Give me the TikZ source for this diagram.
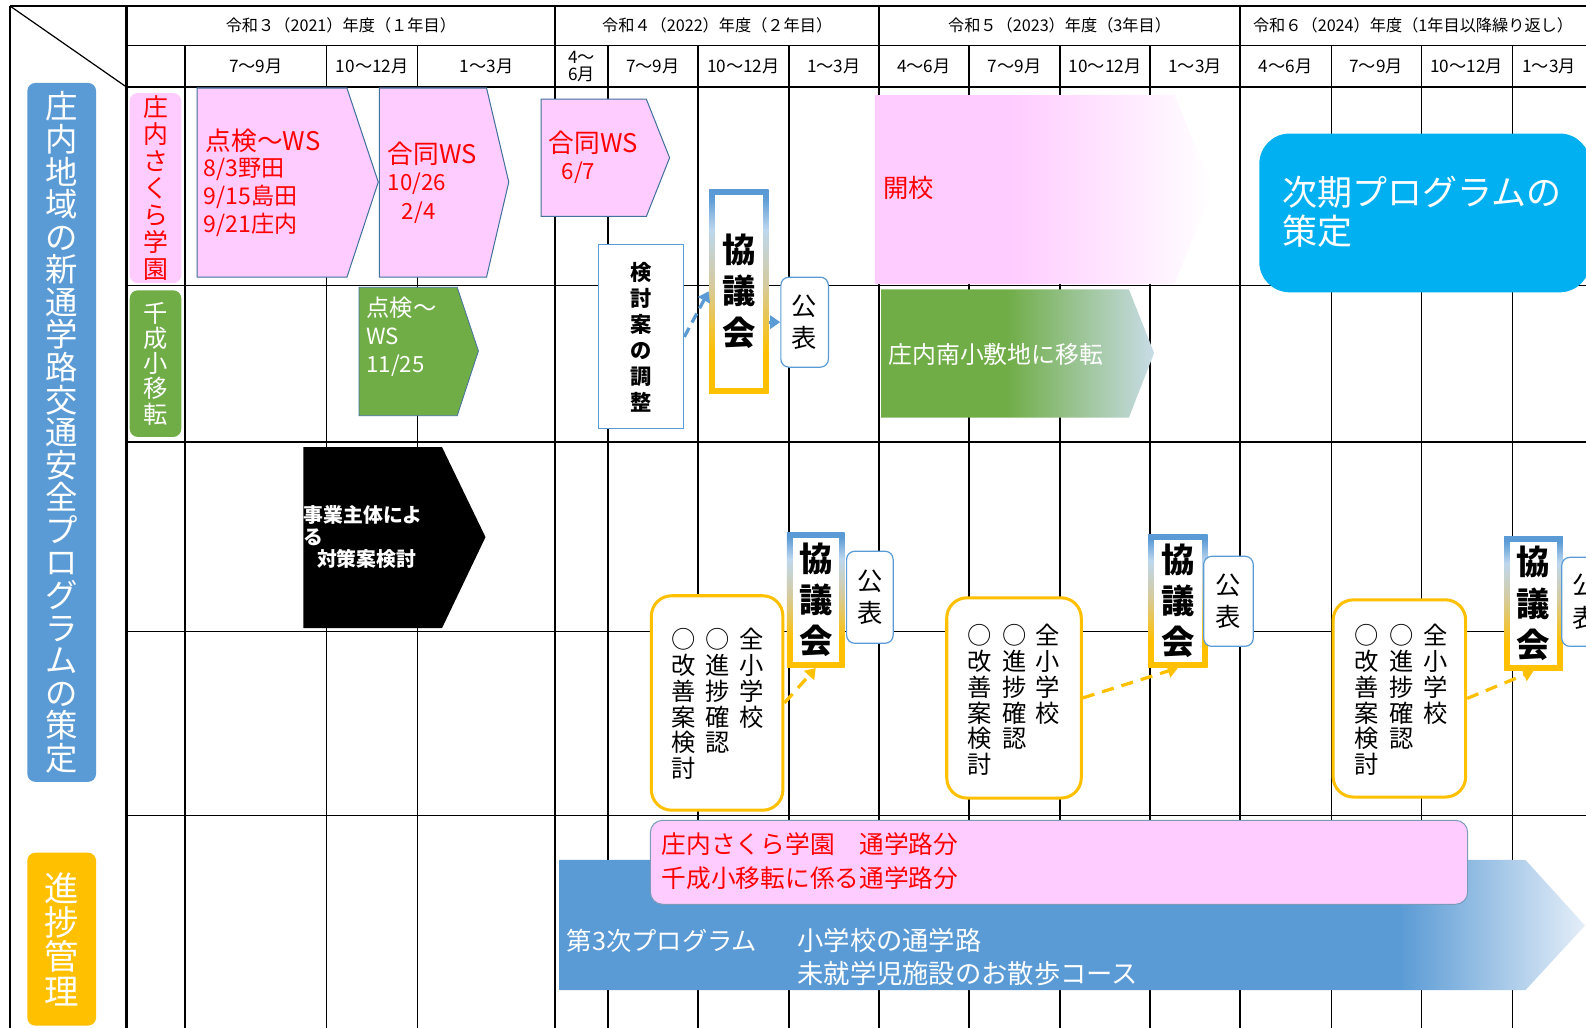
\documentclass[tikz,border=0pt]{standalone}
\usepackage{fontspec}
\setmainfont{Noto Sans CJK JP}
\usetikzlibrary{arrows.meta}
\definecolor{pinkA}{HTML}{FFCCFF}
\definecolor{blueL}{HTML}{5B9BD5}
\definecolor{yelL}{HTML}{FFC000}
\definecolor{greenL}{HTML}{70AD47}
\definecolor{cyanB}{HTML}{00B0F0}
\definecolor{edgeB}{HTML}{41719C}
\definecolor{redT}{HTML}{FF0000}
\definecolor{fadeG}{HTML}{C8DCE6}
\definecolor{fadeB}{HTML}{E4EEF8}
\definecolor{lightB}{HTML}{BDD7EE}
\definecolor{grayY}{HTML}{D4CBA0}
\pgfdeclarehorizontalshading{pinkfade}{100bp}{color(0bp)=(pinkA); color(25bp)=(pinkA); color(45bp)=(pinkA); color(75bp)=(white); color(100bp)=(white)}
\pgfdeclarehorizontalshading{greenfade}{100bp}{color(0bp)=(greenL); color(25bp)=(greenL); color(48bp)=(greenL); color(75bp)=(fadeG); color(100bp)=(fadeG)}
\pgfdeclarehorizontalshading{bluefade}{100bp}{color(0bp)=(blueL); color(25bp)=(blueL); color(66bp)=(blueL); color(75bp)=(fadeB); color(100bp)=(fadeB)}
\pgfdeclareverticalshading{kyogi}{100bp}{color(0bp)=(yelL); color(25bp)=(yelL); color(35bp)=(yelL); color(52bp)=(grayY); color(65bp)=(lightB); color(73bp)=(blueL); color(100bp)=(blueL)}
\makeatletter
\newcommand\vtxt[2]{\vbox{\baselineskip=#1\relax\lineskiplimit=-\maxdimen\lineskip=0pt\@tfor\vch:=#2\do{\hbox to 1em{\hss\vch\hss}}}}
\makeatother
\newcommand\setfs[1]{\fontsize{#1}{#1}\selectfont}
\newcommand\kyobox[5]{%
  \shade[shading=kyogi] (#2,#3) rectangle (#4,#5);
  \fill[white] (#2+5.5,#3+5.5) rectangle (#4-5.5,#5-5.5);
  \node[kyotext, minimum width={(#4-#2)*0.5pt}, minimum height={(#5-#3)*0.5pt}] (#1) at ({(#2+#4)/2},{(#3+#5)/2}) {\vtxt{20.5pt}{協議会}};}
\begin{document}
\begin{tikzpicture}[x=0.5pt,y=-0.5pt,
  gthick/.style={line width=1.1pt},
  gthin/.style={line width=0.6pt},
  hdr/.style={inner sep=0pt,font=\setfs{8}},
  mon/.style={inner sep=0pt,font=\setfs{8.5}},
  pent/.style={fill=pinkA,draw=edgeB,line width=0.5pt},
  rtxt/.style={anchor=west,inner sep=0pt,text=redT},
  wtxt/.style={anchor=west,inner sep=0pt,text=white},
  lab/.style={inner sep=0pt,rounded corners=4pt},
  kyotext/.style={inner sep=0pt,font=\bfseries\setfs{16.5}},
  pub/.style={draw=blueL,line width=0.6pt,fill=white,rounded corners=4pt,inner sep=0pt,font=\setfs{12.5}},
  ybox/.style={draw=yelL,line width=1.5pt,fill=white,rounded corners=10pt,inner sep=0pt},
  ycol/.style={anchor=north,inner sep=0pt,font=\setfs{12}},
  arr/.style={line width=1.6pt,-{Triangle[length=5pt,width=6.5pt]}},
]
\useasboundingbox (0,0) rectangle (1568,1016);
\fill[white] (0,0) rectangle (1568,1016);
% grid
\foreach \x in {183,323,413,601,690,780,958,1048,1137,1316,1405,1495} \draw[gthin] (\x,45) -- (\x,1016);
\foreach \x in {10,125,549,869,1226} \draw[gthick] (\x,6) -- (\x,1016);
\draw[gthick] (10,6) -- (1568,6);
\foreach \y in {45,86,282,437,624,806} \draw[gthin] (125,\y) -- (1568,\y);
\draw[gthin] (10,6) -- (125,86);
% header
\node[hdr] (y1) at (337,25.5) {令和３（2021）年度（１年目）};
\node[hdr] (y2) at (709,25.5) {令和４（2022）年度（２年目）};
\node[hdr] (y3) at (1047.5,25.5) {令和５（2023）年度（3年目）};
\node[hdr] (y4) at (1397,25.5) {令和６（2024）年度（1年目以降繰り返し）};
\node[mon] (m1) at (253,66) {7～9月};
\node[mon] (m2) at (368,66) {10～12月};
\node[mon] (m3) at (481,66) {1～3月};
\node[mon,align=center,font=\fontsize{8.5}{8.5}\selectfont] (m4) at (575,66) {4～\\6月};
\node[mon] (m5) at (645.5,66) {7～9月};
\node[mon] (m6) at (735,66) {10～12月};
\node[mon] (m7) at (824.5,66) {1～3月};
\node[mon] (m8) at (913.5,66) {4～6月};
\node[mon] (m9) at (1003,66) {7～9月};
\node[mon] (m10) at (1092.5,66) {10～12月};
\node[mon] (m11) at (1181.5,66) {1～3月};
\node[mon] (m12) at (1271,66) {4～6月};
\node[mon] (m13) at (1360.5,66) {7～9月};
\node[mon] (m14) at (1450,66) {10～12月};
\node[mon] (m15) at (1531.5,66) {1～3月};
% left labels
\node[lab,fill=blueL,text=white,minimum width=34pt,minimum height=345.5pt,font=\setfs{16}] (lab1) at (61,427.5) {\vtxt{16.1pt}{庄内地域の新通学路交通安全プログラムの策定}};
\node[lab,fill=yelL,text=white,minimum width=34pt,minimum height=85.5pt,font=\setfs{17}] (lab2) at (61,928.5) {\vtxt{17pt}{進捗管理}};
\node[lab,fill=pinkA,text=redT,minimum width=25.5pt,minimum height=94pt,font=\setfs{12.3}] (lab3) at (153.75,186) {\vtxt{13.3pt}{庄内さくら学園}};
\node[lab,fill=greenL,text=white,minimum width=25.5pt,minimum height=72.5pt,font=\setfs{12}] (lab4) at (153.75,359.5) {\vtxt{12.5pt}{千成小移転}};
% pink pentagons
\draw[pent] (195,87) -- (343,87) -- (374,180) -- (343,274) -- (195,274) -- cycle;
\node[rtxt,font=\setfs{12.7}] (t1a) at (203,139) {点検～WS};
\node[rtxt,font=\setfs{11.4}] (t1b) at (201,167) {8/3野田};
\node[rtxt,font=\setfs{11.4}] (t1c) at (201,195) {9/15島田};
\node[rtxt,font=\setfs{11.4}] (t1d) at (201,222) {9/21庄内};
\draw[pent] (375,87) -- (481,87) -- (503,180) -- (481,274) -- (375,274) -- cycle;
\node[rtxt,font=\setfs{12.7}] (t2a) at (383,152) {合同WS};
\node[rtxt,font=\setfs{11}] (t2b) at (383,182) {10/26};
\node[rtxt,font=\setfs{11}] (t2c) at (397,210) {2/4};
\draw[pent] (535,98) -- (639,98) -- (662,156) -- (639,214) -- (535,214) -- cycle;
\node[rtxt,font=\setfs{12.7}] (t3a) at (542,141) {合同WS};
\node[rtxt,font=\setfs{11}] (t3b) at (555,171) {6/7};
% green pentagon
\draw[fill=greenL,draw=edgeB,line width=0.4pt] (355,284) -- (452,284) -- (473,347) -- (452,411) -- (355,411) -- cycle;
\node[wtxt,font=\setfs{11.5}] (g1a) at (362,304) {点検～};
\node[wtxt,font=\setfs{11}] (g1b) at (362,333) {WS};
\node[wtxt,font=\setfs{11}] (g1c) at (362,362) {11/25};
% black pentagon
\fill[black] (300,442) -- (437,442) -- (480,531) -- (437,621) -- (300,621) -- cycle;
\node[wtxt,font=\bfseries\setfs{9.8}] (b1) at (300,509) {事業主体によ};
\node[wtxt,font=\bfseries\setfs{9.8}] (b2) at (300,531) {る};
\node[wtxt,font=\bfseries\setfs{9.8}] (b3) at (313,553) {対策案検討};
% 開校 / 移転
\shade[shading=pinkfade] (865,94) -- (1161,94) -- (1199,186) -- (1161,281) -- (865,281) -- cycle;
\node[rtxt,font=\setfs{12.5}] (kaiko) at (873,186) {開校};
\shade[shading=greenfade] (871,286) -- (1116,286) -- (1141,349) -- (1116,413) -- (871,413) -- cycle;
\node[wtxt,font=\setfs{11.8}] (iten) at (878,350) {庄内南小敷地に移転};
% 次期
\fill[cyanB,rounded corners=15pt] (1245,132) rectangle (1572,289);
\node[wtxt,font=\setfs{17.3}] (jiki1) at (1268,190) {次期プログラムの};
\node[wtxt,font=\setfs{17.3}] (jiki2) at (1268,229) {策定};
% row 2
\node[draw=blueL,line width=0.6pt,fill=white,minimum width=42pt,minimum height=91pt,inner sep=0pt,font=\bfseries\setfs{10.5}] (ken) at (634,333) {\vtxt{12.85pt}{検討案の調整}};
\kyobox{k1}{701}{187}{760}{389}
\node[pub,minimum width=23.5pt,minimum height=44.5pt] (p1) at (795.5,318.5) {\vtxt{16pt}{公表}};
\draw[arr,draw=blueL,dash pattern=on 5pt off 3pt] (ken.east) -- (k1.west);
\draw[arr,draw=blueL] (k1.east |- p1.west) -- (p1.west);
% row 4
\node[ybox,minimum width=65pt,minimum height=106pt] (yb1) at (709,695) {};
\node[ycol] (yb1a) at (743,621) {\vtxt{12.75pt}{全小学校}};
\node[ycol] (yb1b) at (709,621) {\vtxt{12.75pt}{○進捗確認}};
\node[ycol] (yb1c) at (676,621) {\vtxt{12.75pt}{○改善案検討}};
\kyobox{k2}{778}{526}{835}{660}
\node[pub,minimum width=23pt,minimum height=45.5pt] (p2) at (860,590.5) {\vtxt{16pt}{公表}};
\draw[arr,draw=yelL,dash pattern=on 6pt off 4pt] (yb1.east) -- (k2.south);
\node[ybox,minimum width=66.5pt,minimum height=99pt] (yb3) at (1002.5,690) {};
\node[ycol] (yb3a) at (1036,617) {\vtxt{12.75pt}{全小学校}};
\node[ycol] (yb3b) at (1003,617) {\vtxt{12.75pt}{○進捗確認}};
\node[ycol] (yb3c) at (969,617) {\vtxt{12.75pt}{○改善案検討}};
\kyobox{k3}{1135}{528}{1194}{660}
\node[pub,minimum width=24.5pt,minimum height=44.5pt] (p3) at (1214.5,594.5) {\vtxt{16pt}{公表}};
\draw[arr,draw=yelL,dash pattern=on 6pt off 4pt] (yb3.east) -- (k3.south);
\node[ybox,minimum width=65.5pt,minimum height=97.5pt] (yb4) at (1383.5,690.5) {};
\node[ycol] (yb4a) at (1419,617) {\vtxt{12.75pt}{全小学校}};
\node[ycol] (yb4b) at (1386,617) {\vtxt{12.75pt}{○進捗確認}};
\node[ycol] (yb4c) at (1351,617) {\vtxt{12.75pt}{○改善案検討}};
\kyobox{k4}{1487}{530}{1545}{663}
\node[pub,minimum width=23.5pt,minimum height=44pt] (p4) at (1567.5,595) {\vtxt{16pt}{公表}};
\draw[arr,draw=yelL,dash pattern=on 6pt off 4pt] (yb4.east) -- (k4.south);
% row 5
\shade[shading=bluefade] (553,850) -- (1508,850) -- (1567,915) -- (1508,979) -- (553,979) -- cycle;
\node[fill=pinkA,draw=edgeB!70,line width=0.5pt,rounded corners=6pt,minimum width=404pt,minimum height=41.5pt,inner sep=0pt] (pk) at (1047,852.5) {};
\node[rtxt,font=\setfs{12.2}] (pk1) at (654,835) {庄内さくら学園　通学路分};
\node[rtxt,font=\setfs{12.2}] (pk2) at (654,868) {千成小移転に係る通学路分};
\node[wtxt,font=\setfs{12.5}] (bl1) at (560,930) {第3次プログラム};
\node[wtxt,font=\setfs{13}] (bl2) at (788,930) {小学校の通学路};
\node[wtxt,font=\setfs{13}] (bl3) at (788,962) {未就学児施設のお散歩コース};
\end{tikzpicture}
\end{document}
